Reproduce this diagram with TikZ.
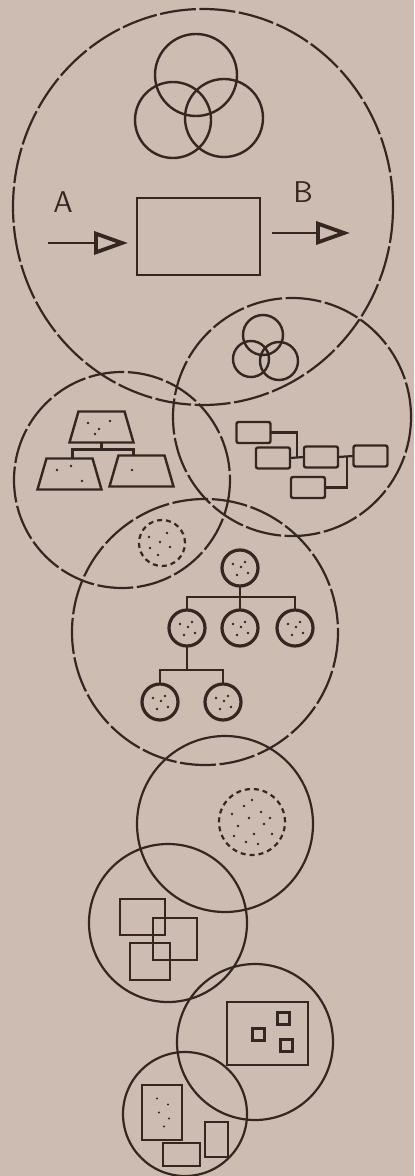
\documentclass[tikz,border=0pt]{standalone}
\usepackage{tikz}
\usetikzlibrary{arrows.meta,positioning,shapes.geometric}
\definecolor{paper}{RGB}{205,188,177}
\definecolor{ink}{RGB}{52,39,34}

\begin{document}
\begin{tikzpicture}[
  x=0.5pt,y=-0.5pt,
  every node/.style={inner sep=0pt,outer sep=0pt},
  zone/.style={draw=ink,line width=1.1pt,dash pattern=on 18pt off 1.8pt},
  plain/.style={draw=ink,line width=1.1pt},
  ring/.style={circle,draw=ink,line width=1.2pt},
  cell/.style={circle,draw=ink,line width=1.6pt,minimum size=18pt},
  spot/.style={circle,draw=ink,line width=1.1pt,dash pattern=on 2.5pt off 2pt},
  fbox/.style={rectangle,draw=ink,line width=1.2pt,rounded corners=1pt,minimum width=17pt,minimum height=10.5pt},
  trap/.style={trapezium,draw=ink,line width=1.2pt,inner sep=1pt,trapezium angle=79,trapezium stretches=true,minimum width=32pt,minimum height=15.5pt},
  sq/.style={rectangle,draw=ink,line width=1.1pt},
  pin/.style={rectangle,draw=ink,line width=1.8pt,minimum size=6pt},
  flow/.style={draw=ink,line width=1.2pt,-{Triangle[open,length=17pt,width=11.5pt,line width=1.9pt]}},
  lbl/.style={text=ink,font=\sffamily\fontsize{15}{15}\selectfont},
  link/.style={draw=ink,line width=1.1pt},
  grain/.style={fill=ink}
]
\fill[paper] (0,0) rectangle (414,1176);
\useasboundingbox (0,0) rectangle (414,1176);

% overlapping zones
\draw[zone] (203,207) ellipse [x radius=190,y radius=198];
\draw[zone] (292,417) circle [radius=119];
\draw[zone] (122,480) circle [radius=108];
\draw[zone] (205,632) circle [radius=133];
\draw[plain] (225,824) circle [radius=88];
\draw[plain] (168,923) circle [radius=79];
\draw[plain] (255,1042) circle [radius=78];
\draw[plain] (185,1114) circle [radius=62];

% zone 1: rings, box and arrows
\node[ring,minimum size=41pt] (ringT) at (196,75) {};
\node[ring,minimum size=38pt] (ringL) at (173,120) {};
\node[ring,minimum size=39pt] (ringR) at (224,118) {};
\node[sq,line width=1.2pt,minimum width=61.5pt,minimum height=38.5pt] (box) at (198.5,236.5) {};
\coordinate (inA) at (48,243);
\coordinate (outB) at (350,233);
\draw[flow,shorten >=4.5pt] (inA) -- (inA -| box.west);
\draw[flow,shorten <=6pt] (outB -| box.east) -- (outB);
\node[lbl] (labA) at (63,202) {A};
\node[lbl] (labB) at (303,192) {B};

% zone 2: small rings and flow chart
\node[ring,minimum size=20pt] (miniT) at (263,335) {};
\node[ring,minimum size=18pt] (miniL) at (251,359) {};
\node[ring,minimum size=19pt] (miniR) at (279,361) {};
\node[fbox] (f1) at (253.5,432.5) {};
\node[fbox] (f2) at (273,458) {};
\node[fbox] (f3) at (321,457) {};
\node[fbox] (f4) at (370.5,456) {};
\node[fbox] (f5) at (308,487.5) {};
\coordinate (j2) at (297,457.5);
\coordinate (j3) at (347,456.5);
\draw[link] (f2.east) -- (f3.west);
\draw[link] (f3.east) -- (f4.west);
\draw[link] (f1.east) -| (j2);
\draw[link] (f5.east) -| (j3);

% zone 3: trapezium tree
\node[trap] (tr0) at (101.5,427) {};
\node[trap] (tr1) at (69.5,474) {};
\node[trap] (tr2) at (141.5,471) {};
\draw[link] (tr0.south) -- ++(0,7) coordinate (jt);
\draw[link] ([xshift=1.5pt]tr1.north) |- (jt) -| ([xshift=-4pt]tr2.north);
\foreach \px/\py in {88/423,99/429,110/421,95/434,57/470,71/466,82/481,132/470}
  \fill[grain] (\px,\py) circle [radius=1.3];

% zone 4: spot and cell tree
\node[spot,minimum size=23pt] (spotA) at (162,543) {};
\node[cell] (c0) at (240,568) {};
\node[cell] (c1) at (187,628) {};
\node[cell] (c2) at (240,628) {};
\node[cell] (c3) at (295,628) {};
\node[cell] (c4) at (160,702) {};
\node[cell] (c5) at (223,702) {};
\draw[link] (c0.south) -- ++(0,11) coordinate (jc0);
\draw[link] (c1.north) |- (jc0) -| (c3.north);
\draw[link] (c2.north) -- (jc0);
\draw[link] (c1.south) -- ++(0,24) coordinate (jc1);
\draw[link] (c4.north) |- (jc1) -| (c5.north);
\foreach \c in {c0,c1,c2,c3,c4,c5}
  \foreach \dx/\dy in {-7/-4,5/-6,8/5,-3/7,1/-1}
    \fill[grain] ([shift={(\dx,\dy)}]\c) circle [radius=1.3];
\foreach \dx/\dy in {-13/-6,-12/5,-4/12,5/-10,8/4,-2/-1}
  \fill[grain] ([shift={(\dx,\dy)}]spotA) circle [radius=1.4];

% zone 5: large spot
\node[spot,minimum size=33pt] (spotB) at (252,822) {};
\foreach \dx/\dy in {-20/-8,-14/4,-8/-16,-3/-4,2/12,9/-10,12/2,18/-4,-18/14,6/22,-6/20,20/12,0/-22}
  \fill[grain] ([shift={(\dx,\dy)}]spotB) circle [radius=1.4];

% zone 6: overlapping squares
\node[sq,minimum width=22.5pt,minimum height=18pt] (s1) at (142.5,917) {};
\node[sq,minimum width=22pt,minimum height=21pt] (s2) at (175,939) {};
\node[sq,minimum width=20pt,minimum height=18.5pt] (s3) at (150,961.5) {};

% zone 7: plate with pins
\node[sq,minimum width=40.5pt,minimum height=31.5pt] (plate) at (267.5,1033.5) {};
\node[pin] (p1) at (258.5,1034.5) {};
\node[pin] (p2) at (283.5,1018.5) {};
\node[pin] (p3) at (286.5,1045.5) {};

% zone 8: loose blocks
\node[sq,minimum width=20pt,minimum height=27.5pt] (r1) at (162,1112.5) {};
\node[sq,minimum width=11.5pt,minimum height=17.5pt] (r2) at (216.5,1139.5) {};
\node[sq,minimum width=18.5pt,minimum height=11.5pt] (r3) at (181.5,1154.5) {};
\foreach \dx/\dy in {-5/-14,6/-8,-3/0,7/6,2/14}
  \fill[grain] ([shift={(\dx,\dy)}]r1) circle [radius=1.1];
\end{tikzpicture}
\end{document}
